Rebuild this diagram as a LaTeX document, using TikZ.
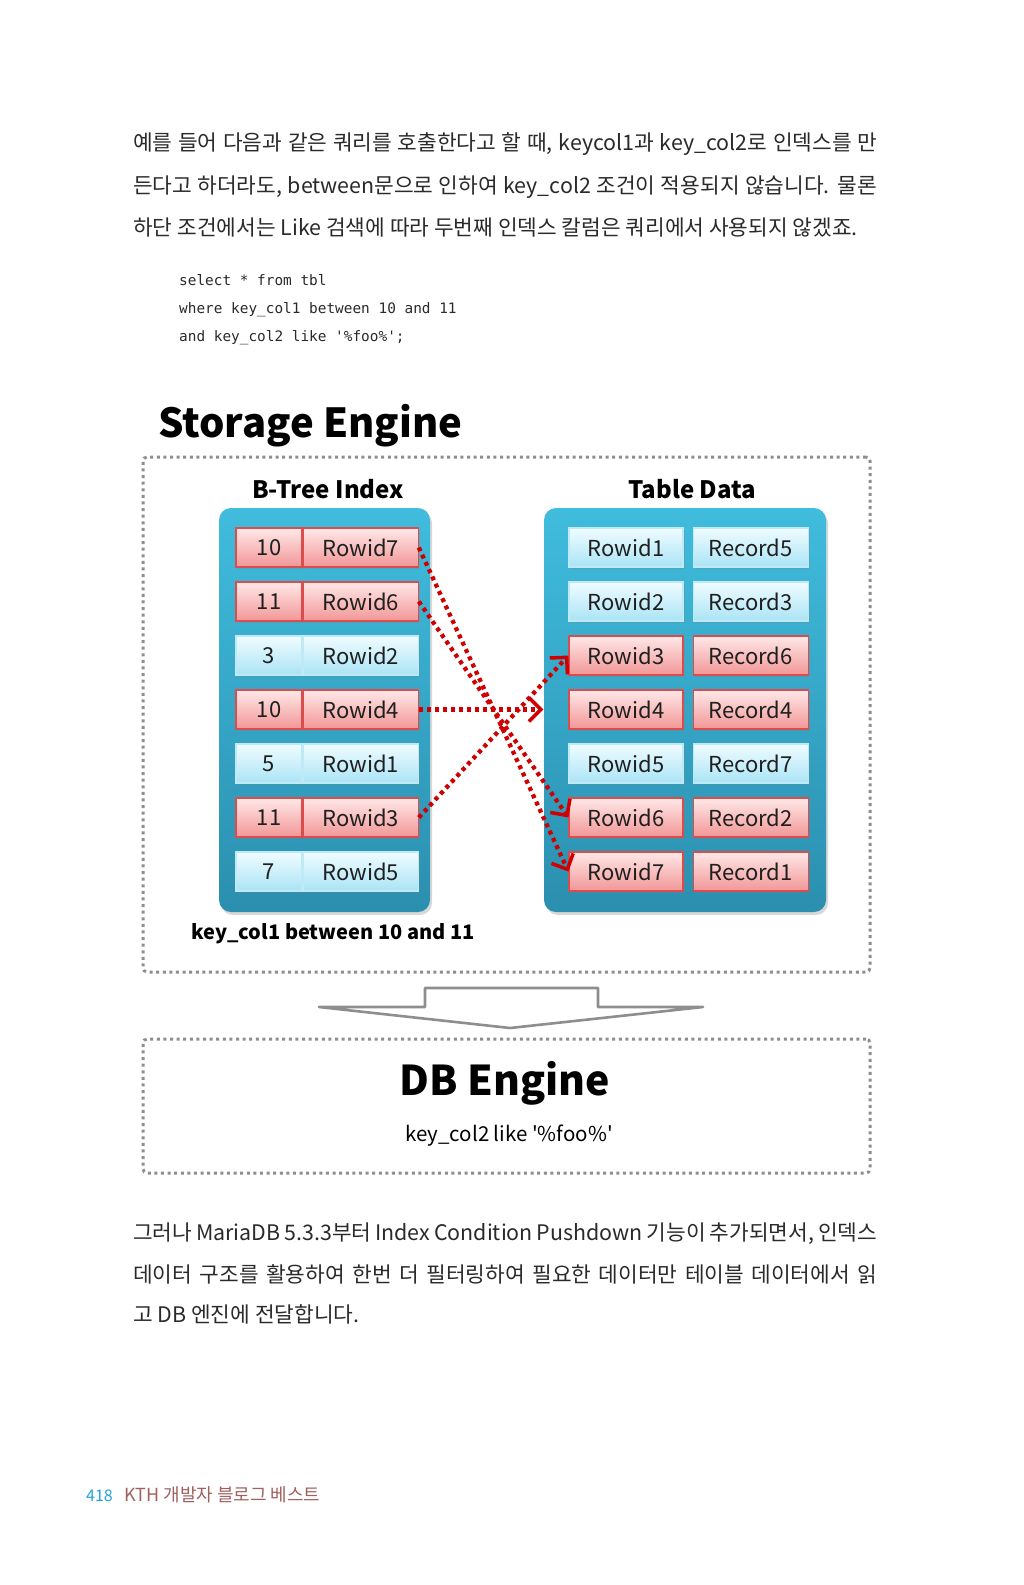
\documentclass[tikz,border=0pt]{standalone}
\usepackage{fontspec}
\setmainfont{Noto Sans CJK KR}
\newfontfamily\plainfont{Noto Sans CJK KR}
\newfontfamily\codefont{DejaVu Sans Mono}
\usetikzlibrary{arrows.meta,positioning,shadows}
\definecolor{PanelTop}{HTML}{40BCDD}
\definecolor{PanelBottom}{HTML}{2B8FAF}
\definecolor{hitTop}{HTML}{FFE8E8}
\definecolor{hitBottom}{HTML}{F29696}
\definecolor{hitLine}{HTML}{DB4C4C}
\definecolor{missTop}{HTML}{F0FCFF}
\definecolor{missBottom}{HTML}{AAE4F6}
\definecolor{missLine}{HTML}{BEE9F5}
\definecolor{PushRed}{HTML}{D00000}
\definecolor{FrameGray}{HTML}{8E8E8E}
\definecolor{BodyText}{HTML}{2A2A2A}
\definecolor{PageBlue}{HTML}{22A3DD}
\definecolor{PageBrown}{HTML}{A0605E}

\newcommand{\justline}[1]{\hbox to 744pt{#1}}
\newcommand{\sq}{{\char"27}}

\begin{document}
\begin{tikzpicture}[x=1pt,y=-1pt,
  para/.style={anchor=base west,inner sep=0,font=\fontsize{21.4}{21.4}\selectfont,text=BodyText},
  codeline/.style={anchor=base west,inner sep=0,font=\codefont\fontsize{14.4}{14.4}\selectfont,text=BodyText},
  enginebox/.style={rectangle,draw=FrameGray,line width=3pt,dash pattern=on 3pt off 3.6pt,rounded corners=4pt,inner sep=0},
  panel/.style={rectangle,rounded corners=12pt,top color=PanelTop,bottom color=PanelBottom,inner sep=0,
    drop shadow={opacity=0.3,shadow xshift=2pt,shadow yshift=-3pt}},
  cell/.style={rectangle,inner sep=0,minimum height=39pt,top color=#1Top,bottom color=#1Bottom,draw=#1Line,line width=1.2pt,
    font=\fontsize{22}{22}\selectfont,text=black!88,drop shadow={opacity=0.25,shadow xshift=1.5pt,shadow yshift=-2pt}},
  heading/.style={inner sep=0,font=\bfseries\fontsize{24}{24}\selectfont},
  cond/.style={inner sep=0,font=\fontsize{20}{20}\selectfont},
  push/.style={draw=PushRed,line width=4.3pt,dash pattern=on 4pt off 4pt,
    -{Straight Barb[length=12pt,width=24pt,line width=3.5pt]}}
]
\fill[white] (0,0) rectangle (1024,1585);
\useasboundingbox (0,0) rectangle (1024,1585);

% text above
\node[para] (p1a) at (133,150) {\justline{예를 들어 다음과 같은 쿼리를 호출한다고 할 때, keycol1과 key\_col2로 인덱스를 만}};
\node[para] (p1b) at (133,193) {\justline{든다고 하더라도, between문으로 인하여 key\_col2 조건이 적용되지 않습니다. 물론}};
\node[para] (p1c) at (133,235) {하단 조건에서는 Like 검색에 따라 두번째 인덱스 칼럼은 쿼리에서 사용되지 않겠죠.};

\node[codeline] (sql1) at (179,285) {select * from tbl};
\node[codeline] (sql2) at (179,313) {where key\_col1 between 10 and 11};
\node[codeline] (sql3) at (179,341) {and key\_col2 like \sq\%foo\%\sq;};

% storage engine
\node[inner sep=0,anchor=base west,font=\bfseries\fontsize{40}{40}\selectfont] (storagetitle) at (158,437) {Storage Engine};
\node[enginebox,minimum width=727pt,minimum height=515pt] (storagebox) at (506.5,714.5) {};

\node[panel,minimum width=211pt,minimum height=404pt] (idxpanel) at (324.5,710) {};
\node[panel,minimum width=282pt,minimum height=404pt] (tblpanel) at (685,710) {};
\node[heading] (idxtitle) at (328,489) {B-Tree Index};
\node[heading] (tbltitle) at (692,489) {Table Data};

\foreach \k/\r/\s [count=\i] in {10/7/hit,11/6/hit,3/2/miss,10/4/hit,5/1/miss,11/3/hit,7/5/miss}{
  \node[cell=\s,minimum width=66pt] (key\i) at (269,{493.5+54*\i}) {\k};
  \node[cell=\s,minimum width=115pt,right=0pt of key\i] (idx\i) {Rowid\r};
}
\foreach \c/\s [count=\i] in {5/miss,3/miss,6/hit,4/hit,7/miss,2/hit,1/hit}{
  \node[cell=\s,minimum width=114pt] (row\i) at (626,{493.5+54*\i}) {Rowid\i};
  \node[cell=\s,minimum width=115pt,right=9pt of row\i] (rec\i) {Record\c};
}

\draw[push] (idx1.east) -- (row7.west);
\draw[push] (idx2.east) -- (row6.west);
\draw[push,shorten >=25pt] (idx4.east) -- (row4.west);
\draw[push] (idx6.east) -- (row3.west);

\node[cond,font=\bfseries\fontsize{20}{20}\selectfont] (rangecond) at (333,934) {key\_col1 between 10 and 11};

% block arrow
\draw[draw=FrameGray,fill=white,line width=2.6pt,line join=round]
  (319,1007) -- (425,1007) -- (425,988) -- (598,988) -- (598,1007) -- (703,1007) -- (510,1028) -- cycle;

% db engine
\node[enginebox,minimum width=727pt,minimum height=134pt] (dbbox) at (506.5,1106) {};
\node[inner sep=0,font=\bfseries\fontsize{41}{41}\selectfont] (dbtitle) at (505,1083) {DB Engine};
\node[cond,font=\plainfont\fontsize{20.5}{20.5}\selectfont] (likecond) at (509,1136) {key\_col2 like \sq\%foo\%\sq};

% text below
\node[para] (p2a) at (133,1240) {\justline{그러나 MariaDB 5.3.3부터 Index Condition Pushdown 기능이 추가되면서, 인덱스}};
\node[para] (p2b) at (133,1282) {\justline{데이터 구조를 활용하여 한번 더 필터링하여 필요한 데이터만 테이블 데이터에서 읽}};
\node[para] (p2c) at (133,1322) {고 DB 엔진에 전달합니다.};

% footer
\node[inner sep=0,anchor=base west,font=\fontsize{16}{16}\selectfont,text=PageBlue] (pageno) at (86,1501) {418};
\node[inner sep=0,font=\fontsize{18}{18}\selectfont,text=PageBrown,right=11pt of pageno.base east,anchor=base west] (booktitle) {KTH 개발자 블로그 베스트};
\end{tikzpicture}
\end{document}
